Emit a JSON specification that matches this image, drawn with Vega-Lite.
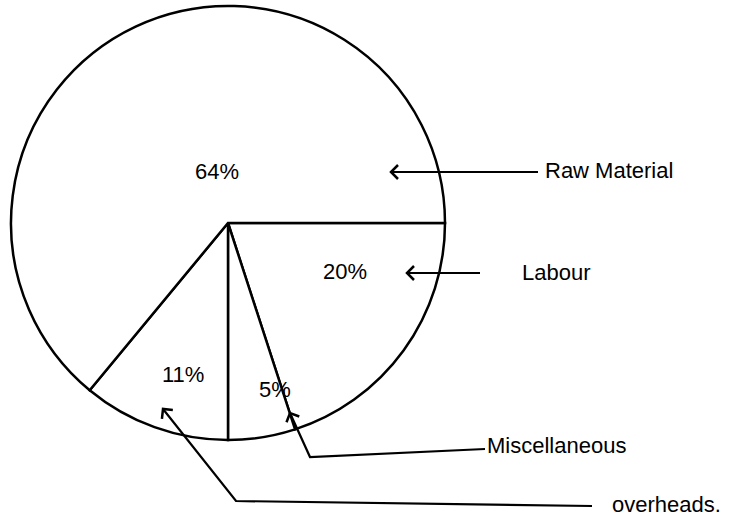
{
  "$schema": "https://vega.github.io/schema/vega-lite/v6.json",
  "width": 456,
  "height": 446,
  "padding": 0,
  "autosize": {"type": "pad"},
  "background": "white",
  "config": {"view": {"stroke": null}},
  "datasets": {
    "parts": [
      {"part": "Labour", "pct": 20, "i": 1},
      {"part": "Miscellaneous", "pct": 5, "i": 2},
      {"part": "Overheads", "pct": 11, "i": 3},
      {"part": "Raw Material", "pct": 64, "i": 4}
    ],
    "labels": [
      {"text": "64%", "x": 195, "y": 179},
      {"text": "20%", "x": 323, "y": 279},
      {"text": "11%", "x": 162, "y": 382},
      {"text": "5%", "x": 259, "y": 397},
      {"text": "Raw Material", "x": 545, "y": 178},
      {"text": "Labour", "x": 522, "y": 280},
      {"text": "Miscellaneous", "x": 487, "y": 453},
      {"text": "overheads.", "x": 612, "y": 512}
    ],
    "arrows": [
      {"arrow": "raw", "i": 1, "x": 538, "y": 172},
      {"arrow": "raw", "i": 2, "x": 391, "y": 172},
      {"arrow": "labour", "i": 1, "x": 480, "y": 273},
      {"arrow": "labour", "i": 2, "x": 407, "y": 273},
      {"arrow": "misc", "i": 1, "x": 485, "y": 449},
      {"arrow": "misc", "i": 2, "x": 310, "y": 457},
      {"arrow": "misc", "i": 3, "x": 290, "y": 413},
      {"arrow": "over", "i": 1, "x": 592, "y": 506},
      {"arrow": "over", "i": 2, "x": 236, "y": 501},
      {"arrow": "over", "i": 3, "x": 163, "y": 409}
    ],
    "heads": [
      {"arrow": "raw", "x": 391, "y": 172, "angle": 0},
      {"arrow": "labour", "x": 407, "y": 273, "angle": 0},
      {"arrow": "misc", "x": 290, "y": 413, "angle": 65.6},
      {"arrow": "over", "x": 163, "y": 409, "angle": 51.2}
    ]
  },
  "layer": [
    {
      "data": {"name": "parts"},
      "mark": {"type": "arc", "outerRadius": 217, "fill": "white", "stroke": "black", "strokeWidth": 2.5},
      "encoding": {
        "theta": {"field": "pct", "type": "quantitative", "stack": true, "scale": {"range": [1.5708, 7.854]}},
        "detail": {"field": "part"},
        "order": {"field": "i", "type": "quantitative"}
      }
    },
    {
      "data": {"name": "arrows"},
      "mark": {"type": "line", "stroke": "black", "strokeWidth": 2.2},
      "encoding": {
        "x": {"field": "x", "type": "quantitative", "scale": {"domain": [0, 456], "nice": false, "zero": false}, "axis": null},
        "y": {"field": "y", "type": "quantitative", "scale": {"domain": [0, 446], "nice": false, "zero": false, "reverse": true}, "axis": null},
        "detail": {"field": "arrow"},
        "order": {"field": "i", "type": "quantitative"}
      }
    },
    {
      "data": {"name": "heads"},
      "mark": {"type": "point", "shape": "M 1 -1 L 0 0 L 1 1", "filled": false, "stroke": "black", "strokeWidth": 2.5, "size": 196, "opacity": 1},
      "encoding": {
        "x": {"field": "x", "type": "quantitative"},
        "y": {"field": "y", "type": "quantitative"},
        "angle": {"field": "angle", "type": "quantitative", "scale": null}
      }
    },
    {
      "data": {"name": "labels"},
      "mark": {"type": "text", "align": "left", "baseline": "alphabetic", "font": "Liberation Sans", "fontSize": 22, "fill": "black"},
      "encoding": {
        "x": {"field": "x", "type": "quantitative"},
        "y": {"field": "y", "type": "quantitative"},
        "text": {"field": "text"}
      }
    }
  ]
}
